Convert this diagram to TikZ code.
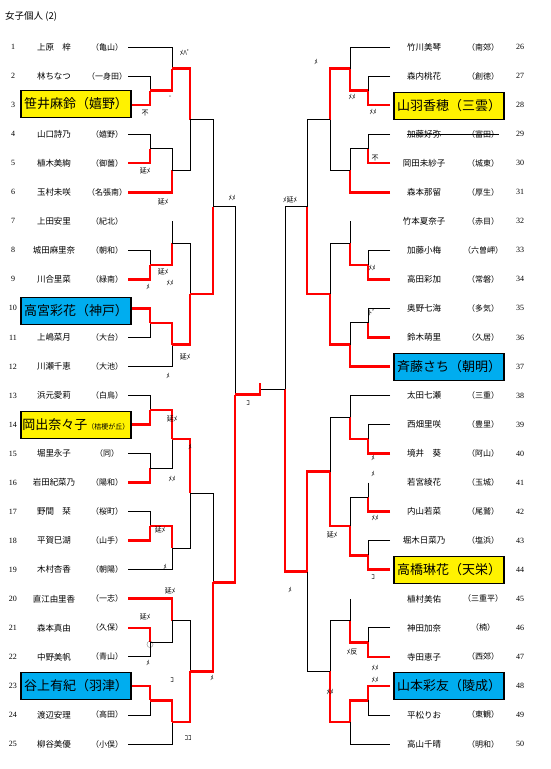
\documentclass[tikz,border=0pt]{standalone}
\usepackage{fontspec}
\setmainfont{Noto Sans CJK JP}
\newfontfamily\numfont{Liberation Serif}
\usetikzlibrary{calc}

% one match: top input, bottom input, column, output name, winner
\newcommand\bmatch[5]{%
  \coordinate (#4) at ($(#1 -| #3)!.5!(#2 -| #3)$);
  \draw[bline] (#1) -- (#1 -| #3) -- (#2 -| #3) -- (#2);
  \draw[win] (#5) -- (#5 -| #3) -- (#4);}

\begin{document}
\begin{tikzpicture}[x=1pt,y=-1pt,
  every node/.style={font=\fontsize{8.5}{9}\selectfont,inner sep=0pt},
  num/.style={font=\numfont\fontsize{8}{9}\selectfont},
  club/.style={font=\fontsize{8}{9}\selectfont},
  hibox/.style={draw,line width=1.2pt,minimum width=110pt,minimum height=27pt,
    font=\fontsize{13}{14}\selectfont},
  yel/.style={hibox,fill=yellow},
  cya/.style={hibox,fill=cyan},
  bline/.style={line width=0.8pt},
  win/.style={red,line width=2.6pt,line cap=square},
  res/.style={font=\fontsize{7}{7}\selectfont}]
\useasboundingbox (0,0) rectangle (550,769);
\node[anchor=west,font=\fontsize{9.5}{10}\selectfont] (title) at (5,16) {女子個人 (2)};

% columns
\foreach \c/\x in {L1/150,L2/172,L3/190,L4/213,L5/235,CC/260,R5/285,R4/307,R3/330,R2/350,R1/368}
  \coordinate (\c) at (\x,0);

% left players
\foreach \i/\nm/\cl in {1/上原　梓/亀山,2/林ちなつ/一身田,4/山口詩乃/嬉野,5/植木美絢/御薗,
  6/玉村未咲/名張南,7/上田安里/紀北,8/城田麻里奈/朝和,9/川合里菜/緑南,11/上嶋菜月/大台,
  12/川瀬千恵/大池,13/浜元愛莉/白鳥,15/堀里永子/同,16/岩田紀菜乃/陽和,17/野間　栞/桜町,
  18/平賀巳湖/山手,19/木村杏香/朝陽,20/直江由里香/一志,21/森本真由/久保,22/中野美帆/青山,
  24/渡辺安理/高田,25/柳谷美優/小俣}{
  \pgfmathsetmacro\yy{47+(\i-1)*29.04}
  \node (p\i) at (54,\yy) {\nm};
  \node[club] (k\i) at (107,\yy) {（\cl）};
}
% right players
\foreach \i/\nm/\cl in {26/竹川美琴/南郊,27/森内桃花/創徳,29/加藤好弥/富田,30/岡田未紗子/城東,
  31/森本那留/厚生,32/竹本夏奈子/赤目,33/加藤小梅/六曽岬,34/高田彩加/常磐,35/奥野七海/多気,
  36/鈴木萌里/久居,38/太田七瀬/三重,39/西畑里咲/豊里,40/境井　葵/阿山,41/若宮綾花/玉城,
  42/内山若菜/尾鷲,43/堀木日菜乃/塩浜,45/植村美佑/三重平,46/神田加奈/楠,47/寺田恵子/西郊,
  49/平松りお/東観,50/高山千晴/明和}{
  \pgfmathsetmacro\yy{47+(\i-26)*29.04}
  \node (p\i) at (424,\yy) {\nm};
  \node[club] (k\i) at (483,\yy) {（\cl）};
}
\draw[bline] (p29.west) -- (k29.east);
% numbers and line ends
\foreach \i in {1,...,25}{
  \pgfmathsetmacro\yy{47+(\i-1)*29.04}
  \node[num] (n\i) at (13,\yy) {\i};
  \coordinate (e\i) at (128,\yy);
}
\foreach \i in {26,...,50}{
  \pgfmathsetmacro\yy{47+(\i-26)*29.04}
  \node[num] (n\i) at (520,\yy) {\i};
  \coordinate (e\i) at (390,\yy);
}
% absent players: no line from the name
\coordinate (e7) at (e7 -| L2);
\coordinate (e32) at (e32 -| R2);
\coordinate (e41) at (e41 -| R1);
\coordinate (e45) at (e45 -| R2);

% left bracket
\bmatch{e2}{e3}{L1}{a1}{e3}
\bmatch{e1}{a1}{L2}{a2}{a1}
\bmatch{e4}{e5}{L1}{a3}{e5}
\bmatch{a3}{e6}{L2}{a4}{e6}
\bmatch{a2}{a4}{L3}{aw}{a2}
\bmatch{e8}{e9}{L1}{b1}{e9}
\bmatch{e7}{b1}{L2}{b2}{b1}
\bmatch{e10}{e11}{L1}{b3}{e10}
\bmatch{b3}{e12}{L2}{b4}{b3}
\bmatch{b2}{b4}{L3}{bw}{b4}
\bmatch{aw}{bw}{L4}{abw}{bw}
\bmatch{e13}{e14}{L1}{c1}{e14}
\bmatch{e15}{e16}{L1}{c2}{e16}
\bmatch{c1}{c2}{L2}{c3}{c1}
\bmatch{e17}{e18}{L1}{c4}{e18}
\bmatch{c4}{e19}{L2}{c5}{c4}
\bmatch{c3}{c5}{L3}{cw}{c3}
\bmatch{e21}{e22}{L1}{d1}{e21}
\bmatch{e20}{d1}{L2}{d2}{e20}
\bmatch{e23}{e24}{L1}{d3}{e23}
\bmatch{d3}{e25}{L2}{d4}{d3}
\bmatch{d2}{d4}{L3}{dw}{d4}
\bmatch{cw}{dw}{L4}{cdw}{dw}
\bmatch{abw}{cdw}{L5}{lw}{cdw}

% right bracket
\bmatch{e27}{e28}{R1}{f1}{e28}
\bmatch{e26}{f1}{R2}{f2}{f1}
\bmatch{e29}{e30}{R1}{f3}{e30}
\bmatch{f3}{e31}{R2}{f4}{e31}
\bmatch{f2}{f4}{R3}{fw}{f2}
\bmatch{e33}{e34}{R1}{g1}{e34}
\bmatch{e32}{g1}{R2}{g2}{g1}
\bmatch{e35}{e36}{R1}{g3}{e36}
\bmatch{g3}{e37}{R2}{g4}{e37}
\bmatch{g2}{g4}{R3}{gw}{g4}
\bmatch{fw}{gw}{R4}{fgw}{gw}
\bmatch{e39}{e40}{R1}{h1}{e40}
\bmatch{e38}{h1}{R2}{h2}{h1}
\bmatch{e41}{e42}{R1}{h3}{e42}
\bmatch{e43}{e44}{R1}{h4}{e44}
\bmatch{h3}{h4}{R2}{h5}{h4}
\bmatch{h2}{h5}{R3}{hw}{h5}
\bmatch{e46}{e47}{R1}{i1}{e47}
\bmatch{e45}{i1}{R2}{i2}{i1}
\bmatch{e48}{e49}{R1}{i3}{e48}
\bmatch{i3}{e50}{R2}{i4}{i3}
\bmatch{i2}{i4}{R3}{iw}{i4}
\bmatch{hw}{iw}{R4}{hiw}{hw}
\bmatch{fgw}{hiw}{R5}{rw}{hiw}

% final
\coordinate (champ) at ($(lw -| CC)+(0,-12)$);
\draw[bline] (lw) -- (lw -| CC) -- (rw -| CC) -- (rw);
\draw[win] (lw) -- (lw -| CC) -- (champ);

% highlighted players
\node[yel] (p3) at (76,104) {笹井麻鈴（嬉野）};
\node[cya] (p10) at (76,311) {高宮彩花（神戸）};
\node[yel] (p14) at (76,425) {岡出奈々子\fontsize{7}{8}\selectfont（桔梗が丘）};
\node[cya] (p23) at (76,686) {谷上有紀（羽津）};
\node[yel] (p28) at (449,106) {山羽香穂（三雲）};
\node[cya] (p37) at (449,367) {斉藤さち（朝明）};
\node[yel] (p44) at (449,570) {高橋琳花（天栄）};
\node[cya] (p48) at (449,686) {山本彩友（陵成）};

% results
\foreach \n/\x/\y/\t in {1/185/53/ﾒﾊﾟ,2/170/97/-,3/145/113/不,4/145/171/延ﾒ,5/163/202/延ﾒ,
  6/232/198/ﾒﾒ,7/163/272/延ﾒ,8/148/287/ﾒ,9/170/283/ﾒﾒ,10/185/357/延ﾒ,11/168/376/ﾒ,
  12/248/403/ｺ,13/172/419/延ﾒ,14/190/447/ﾒ,15/172/479/ﾒﾒ,16/160/530/延ﾒ,17/165/567/ﾒ,
  18/170/591/延ﾒ,19/145/617/延ﾒ,20/150/645/○,21/148/663/ﾒ,22/172/680/ｺ,23/212/678/ﾒ,
  24/188/738/ｺｺ,25/316/62/ﾒ,26/352/97/ﾒﾒ,27/373/112/ﾒﾒ,28/375/158/不,29/372/268/ﾒﾒ,
  30/372/313/ﾄﾞ,31/290/200/ﾒ延ﾒ,32/373/458/ﾒ,33/373/474/ﾒ,34/375/518/ﾒﾒ,35/332/535/延ﾒ,
  36/373/577/ｺ,37/290/590/ﾒ,38/352/652/ﾒ反,39/375/668/ﾒﾒ,40/375/680/ﾒﾒ,41/330/692/ﾒﾒ}
  \node[res] (r\n) at (\x,\y) {\t};
\end{tikzpicture}
\end{document}
